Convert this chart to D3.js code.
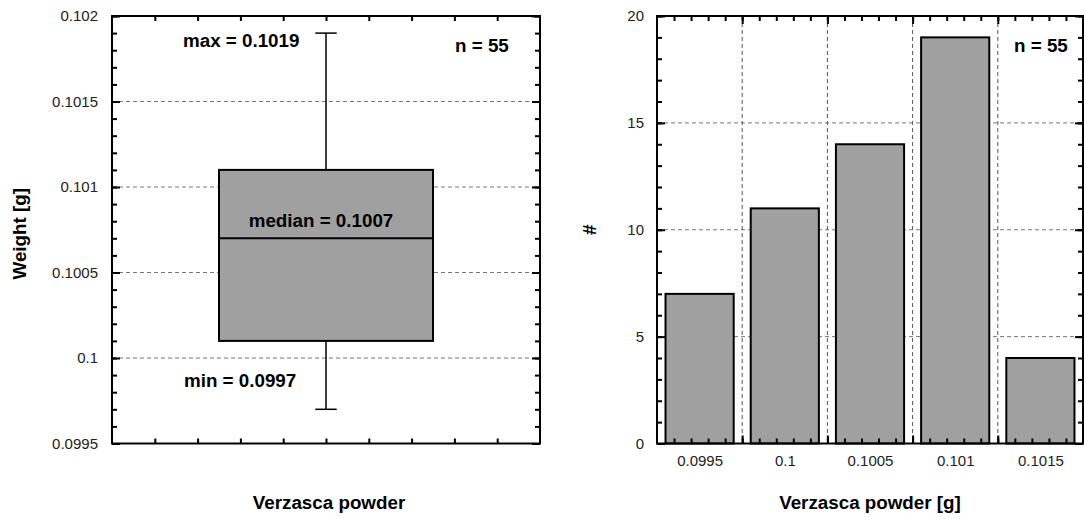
<!DOCTYPE html>
<html lang="en">
<head>
  <meta charset="UTF-8">
  <title>Verzasca powder weight</title>
  <style>
    body { margin: 0; background: #fff; }
    svg { display: block; font-family: "Liberation Sans", Arial, sans-serif; }
    .tick text { font-size: 15px; fill: #222; }
    .lbl { font-size: 18.8px; font-weight: bold; fill: #000; }
    .grid { stroke: #777; stroke-width: 1; stroke-dasharray: 4,3; }
  </style>
</head>
<body>
<svg id="chart" width="1084" height="519"></svg>

<script src="https://d3js.org/d3.v7.min.js"></script>
<script>
  // box plot summary (weight in g)
  const boxKeys = ["min", "q1", "median", "q3", "max"];
  const boxValues = [0.0997, 0.1001, 0.1007, 0.1011, 0.1019];
  const sampleCount = 55;
  const weightTicks = [0.0995, 0.1, 0.1005, 0.101, 0.1015, 0.102];

  // histogram
  const binCenters = [0.0995, 0.1, 0.1005, 0.101, 0.1015];
  const binLabels = ["0.0995", "0.1", "0.1005", "0.101", "0.1015"];
  const binCounts = [7, 11, 14, 19, 4];
  const countTicks = [0, 5, 10, 15, 20];

  const stat = k => boxValues[boxKeys.indexOf(k)];

  const svg = d3.select("#chart");
  const plotTop = 16, plotBottom = 443.5;

  function inwardTicks(g, scale, orient, values, size) {
    const ax = orient === "left" ? d3.axisLeft(scale) : orient === "right" ? d3.axisRight(scale)
      : orient === "top" ? d3.axisTop(scale) : d3.axisBottom(scale);
    g.call(ax.tickValues(values).tickSize(-size).tickFormat(""))
      .call(s => s.select(".domain").remove())
      .selectAll("line").attr("stroke", "#000").attr("stroke-width", 2);
  }

  // ---------------- left panel: box plot ----------------
  const L = { left: 112, right: 540 };
  const xb = d3.scaleLinear().domain([0, 1]).range([L.left, L.right]);
  const yb = d3.scaleLinear().domain([0.0995, 0.102]).range([plotBottom, plotTop]);

  const gl = svg.append("g");

  // grid
  gl.selectAll("line.grid")
    .data(weightTicks.slice(1, -1))
    .enter().append("line")
    .attr("class", "grid")
    .attr("x1", L.left).attr("x2", L.right)
    .attr("y1", d => yb(d)).attr("y2", d => yb(d));

  // whiskers
  const cx = xb(0.5);
  gl.append("line").attr("x1", cx).attr("x2", cx)
    .attr("y1", yb(stat("max"))).attr("y2", yb(stat("q3")))
    .attr("stroke", "#000").attr("stroke-width", 1.5);
  gl.append("line").attr("x1", cx).attr("x2", cx)
    .attr("y1", yb(stat("q1"))).attr("y2", yb(stat("min")))
    .attr("stroke", "#000").attr("stroke-width", 1.5);
  ["max", "min"].forEach(k => {
    gl.append("line").attr("x1", xb(0.475)).attr("x2", xb(0.525))
      .attr("y1", yb(stat(k))).attr("y2", yb(stat(k)))
      .attr("stroke", "#000").attr("stroke-width", 1.5);
  });

  // box
  gl.append("rect")
    .attr("x", xb(0.25)).attr("width", xb(0.75) - xb(0.25))
    .attr("y", yb(stat("q3"))).attr("height", yb(stat("q1")) - yb(stat("q3")))
    .attr("fill", "#a0a0a0").attr("stroke", "#000").attr("stroke-width", 2);
  gl.append("line")
    .attr("x1", xb(0.25)).attr("x2", xb(0.75))
    .attr("y1", yb(stat("median"))).attr("y2", yb(stat("median")))
    .attr("stroke", "#000").attr("stroke-width", 2);

  // ticks
  const yMinor = yb.ticks(25);
  const xMinor = d3.range(1, 10).map(i => i / 10);
  gl.append("g").attr("transform", `translate(${L.left},0)`).call(inwardTicks, yb, "left", yMinor, 5);
  gl.append("g").attr("transform", `translate(${L.right},0)`).call(inwardTicks, yb, "right", yMinor, 5);
  gl.append("g").attr("transform", `translate(${L.left},0)`).call(inwardTicks, yb, "left", weightTicks, 8);
  gl.append("g").attr("transform", `translate(${L.right},0)`).call(inwardTicks, yb, "right", weightTicks, 8);
  gl.append("g").attr("transform", `translate(0,${plotTop})`).call(inwardTicks, xb, "top", xMinor, 5);
  gl.append("g").attr("transform", `translate(0,${plotBottom})`).call(inwardTicks, xb, "bottom", xMinor, 5);

  // tick labels
  gl.append("g").attr("transform", `translate(${L.left},0)`)
    .call(d3.axisLeft(yb).tickValues(weightTicks).tickSize(0).tickPadding(14).tickFormat(d => String(d)))
    .call(g => g.select(".domain").remove())
    .selectAll("text").attr("font-family", null).attr("font-size", null);

  // frame
  gl.append("rect").attr("x", L.left).attr("y", plotTop)
    .attr("width", L.right - L.left).attr("height", plotBottom - plotTop)
    .attr("fill", "none").attr("stroke", "#000").attr("stroke-width", 2);

  // annotations
  gl.append("text").attr("class", "lbl").attr("x", L.left + 71).attr("y", yb(stat("max")) + 14)
    .text(`max = ${stat("max")}`);
  gl.append("text").attr("class", "lbl").attr("x", L.left + 72).attr("y", yb(stat("min")) - 22)
    .text(`min = ${stat("min")}`);
  gl.append("text").attr("class", "lbl").attr("x", cx - 5).attr("y", yb(stat("median")) - 11)
    .attr("text-anchor", "middle").text(`median = ${stat("median")}`);
  gl.append("text").attr("class", "lbl").attr("x", L.right - 85).attr("y", 52)
    .text(`n = ${sampleCount}`);

  // axis titles
  gl.append("text").attr("class", "lbl").attr("text-anchor", "middle")
    .attr("transform", `translate(26,${(plotTop + plotBottom) / 2 + 4}) rotate(-90)`).text("Weight [g]");
  gl.append("text").attr("class", "lbl").attr("text-anchor", "middle")
    .attr("x", (L.left + L.right) / 2 + 3).attr("y", 509).text("Verzasca powder");

  // ---------------- right panel: histogram ----------------
  const R = { left: 657, right: 1083 };
  const binW = binCenters[1] - binCenters[0];
  const xh = d3.scaleLinear()
    .domain([binCenters[0] - binW / 2, binCenters[binCenters.length - 1] + binW / 2])
    .range([R.left, R.right]);
  const yh = d3.scaleLinear().domain([0, 20]).range([plotBottom, plotTop]);
  const gr = svg.append("g");

  const edges = binCenters.slice(1).map(c => c - binW / 2);

  gr.selectAll("line.hgrid")
    .data(countTicks.slice(1, -1))
    .enter().append("line")
    .attr("class", "grid")
    .attr("x1", R.left).attr("x2", R.right)
    .attr("y1", d => yh(d)).attr("y2", d => yh(d));
  gr.selectAll("line.vgrid")
    .data(edges)
    .enter().append("line")
    .attr("class", "grid").style("stroke", "#555")
    .attr("x1", d => xh(d)).attr("x2", d => xh(d))
    .attr("y1", plotTop).attr("y2", plotBottom);

  // bars
  gr.selectAll("rect.bar")
    .data(binCenters)
    .enter().append("rect")
    .attr("class", "bar")
    .attr("x", d => xh(d - binW * 0.4))
    .attr("width", d => xh(d + binW * 0.4) - xh(d - binW * 0.4))
    .attr("y", (d, i) => yh(binCounts[i]))
    .attr("height", (d, i) => yh(0) - yh(binCounts[i]))
    .attr("fill", "#a0a0a0").attr("stroke", "#000").attr("stroke-width", 2);

  // ticks
  const cMinor = yh.ticks(20);
  const hMinor = d3.range(1, 25).map(i => xh.domain()[0] + i * binW / 5);
  gr.append("g").attr("transform", `translate(${R.left},0)`).call(inwardTicks, yh, "left", cMinor, 5);
  gr.append("g").attr("transform", `translate(${R.right},0)`).call(inwardTicks, yh, "right", cMinor, 5);
  gr.append("g").attr("transform", `translate(${R.left},0)`).call(inwardTicks, yh, "left", countTicks, 8);
  gr.append("g").attr("transform", `translate(${R.right},0)`).call(inwardTicks, yh, "right", countTicks, 8);
  gr.append("g").attr("transform", `translate(0,${plotTop})`).call(inwardTicks, xh, "top", hMinor, 5);
  gr.append("g").attr("transform", `translate(0,${plotBottom})`).call(inwardTicks, xh, "bottom", hMinor, 5);
  gr.append("g").attr("transform", `translate(0,${plotTop})`).call(inwardTicks, xh, "top", edges, 8);
  gr.append("g").attr("transform", `translate(0,${plotBottom})`).call(inwardTicks, xh, "bottom", edges, 8);

  gr.append("g").attr("transform", `translate(${R.left},0)`)
    .call(d3.axisLeft(yh).tickValues(countTicks).tickSize(0).tickPadding(13))
    .call(g => g.select(".domain").remove())
    .selectAll("text").attr("font-family", null).attr("font-size", null);
  gr.append("g").attr("transform", `translate(0,${plotBottom})`)
    .call(d3.axisBottom(xh).tickValues(binCenters).tickSize(0).tickPadding(12)
      .tickFormat((d, i) => binLabels[i]))
    .call(g => g.select(".domain").remove())
    .selectAll("text").attr("font-family", null).attr("font-size", null);

  gr.append("rect").attr("x", R.left).attr("y", plotTop)
    .attr("width", R.right - R.left).attr("height", plotBottom - plotTop)
    .attr("fill", "none").attr("stroke", "#000").attr("stroke-width", 2);

  gr.append("text").attr("class", "lbl").attr("x", R.right - 69).attr("y", 52)
    .text(`n = ${sampleCount}`);
  gr.append("text").attr("class", "lbl").attr("text-anchor", "middle")
    .attr("transform", `translate(596,${(plotTop + plotBottom) / 2}) rotate(-90)`).text("#");
  gr.append("text").attr("class", "lbl").attr("text-anchor", "middle")
    .attr("x", (R.left + R.right) / 2).attr("y", 509).text("Verzasca powder [g]");
</script>
</body>
</html>
